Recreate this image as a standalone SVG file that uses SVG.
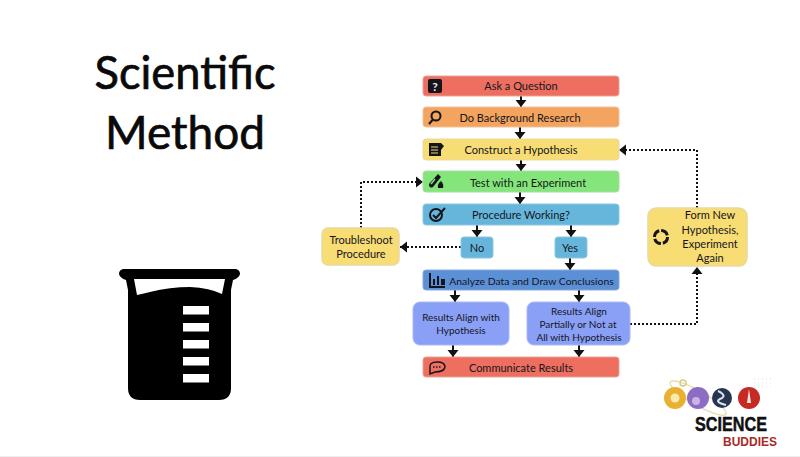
<svg xmlns="http://www.w3.org/2000/svg" width="800" height="457" viewBox="0 0 800 457">
<style>
text{font-family:Lato,"Open Sans","Liberation Sans",sans-serif;text-anchor:middle;fill:#14161c}
.t{font-size:11px}
.s{font-size:10px}
.title{font-size:47px;fill:#0a0a0a;stroke:#0a0a0a;stroke-width:.7px}
.box{stroke-width:1}
.red{fill:#ee6f60;stroke:#e3a59c}
.org{fill:#f3a45f;stroke:#eec39c}
.yel{fill:#f8dc74;stroke:#e8d9a0}
.grn{fill:#84e67a;stroke:#a9dca4}
.blu{fill:#66b6dc;stroke:#8ec6e2}
.dblu{fill:#5b8fd6;stroke:#86a9dc}
.per{fill:#8aa0f6;stroke:#a9b8f2}
.k{fill:#14141c}
.ks{fill:none;stroke:#14141c;stroke-width:2}
.solid{fill:none;stroke:#111;stroke-width:2}
.dot{fill:none;stroke:#111;stroke-width:2;stroke-dasharray:2 2}
</style>
<defs>
<marker id="ah" markerUnits="userSpaceOnUse" markerWidth="12" markerHeight="12" refX="8" refY="6" orient="auto"><path d="M1 0.500L8 6L1 11.500Z" fill="#111"/></marker>
</defs>
<rect width="800" height="457" fill="#fff"/>
<rect y="456" width="800" height="1" fill="#eee"/>
<g id="title">
<text class="title" x="185" y="89" textLength="181" lengthAdjust="spacingAndGlyphs">Scientific</text>
<text class="title" x="185" y="149" textLength="160" lengthAdjust="spacingAndGlyphs">Method</text>
</g>
<g id="beaker">
<path d="M123 269H236Q240 270 240 274Q239 278 233 280L231 290V388Q231 400 219 400H140Q128 400 128 388V290L126 280Q120 278 119 274Q119 270 123 269Z" fill="#000"/>
<path d="M134 279H225L222 294Q210 288 190 287Q170 287 150 292Q142 294 137 295Z" fill="#fff"/>
<g fill="#fff"><rect x="183" y="306" width="26" height="8.500"/><rect x="183" y="323" width="26" height="8.500"/><rect x="183" y="340" width="26" height="8.500"/><rect x="183" y="357" width="26" height="8.500"/><rect x="183" y="374" width="26" height="8.500"/></g>
</g>
<g id="connectors">
<path class="solid" d="M521 96V107" marker-end="url(#ah)"/>
<path class="solid" d="M520 127V139" marker-end="url(#ah)"/>
<path class="solid" d="M521 160V171" marker-end="url(#ah)"/>
<path class="solid" d="M520 192V204" marker-end="url(#ah)"/>
<path class="solid" d="M477 225V237" marker-end="url(#ah)"/>
<path class="solid" d="M571 225V237" marker-end="url(#ah)"/>
<path class="solid" d="M570 258V270" marker-end="url(#ah)"/>
<path class="solid" d="M455 290V302" marker-end="url(#ah)"/>
<path class="solid" d="M579 290V302" marker-end="url(#ah)"/>
<path class="solid" d="M453 345V357" marker-end="url(#ah)"/>
<path class="solid" d="M579 345V357" marker-end="url(#ah)"/>
<path class="dot" d="M461 247H400" marker-end="url(#ah)"/>
<path class="dot" d="M361 228V182H423" marker-end="url(#ah)"/>
<path class="dot" d="M630 324H697V267" marker-end="url(#ah)"/>
<path class="dot" d="M697 208V150H619" marker-end="url(#ah)"/>
</g>
<g id="ask"><rect class="box red" x="423" y="76" width="196" height="20" rx="3"/><rect class="k" x="428" y="79" width="14" height="14" rx="2"/><text x="435" y="90.500" style="fill:#f3efe6;font-size:12px;font-weight:700">?</text><text class="t" x="521" y="90">Ask a Question</text></g>
<g id="research"><rect class="box org" x="423" y="107" width="196" height="20" rx="3"/><circle class="ks" cx="436" cy="116" r="4.500"/><path class="ks" d="M432.500 120L429 124"/><text class="t" x="520" y="121.500">Do Background Research</text></g>
<g id="hypothesis"><rect class="box yel" x="423" y="139" width="196" height="21" rx="3"/><path class="k" d="M429 143H441L444 146L441 150V156H429Z"/><path d="M431 147H438M431 150H438M431 153H438" stroke="#f8dc74" stroke-width="1"/><text class="t" x="521" y="154">Construct a Hypothesis</text></g>
<g id="test"><rect class="box grn" x="423" y="171" width="196" height="21" rx="3"/><path d="M438 174L441 177L433 187Q429 189 429 184Z" fill="#14141c"/><path d="M435 179L431 184" stroke="#84e67a" stroke-width="1.500"/><path class="k" d="M441 181Q444 184 443 188H438Q437 184 441 181Z"/><text class="t" x="528" y="186.500">Test with an Experiment</text></g>
<g id="working"><rect class="box blu" x="423" y="204" width="196" height="21" rx="3"/><circle class="ks" cx="436" cy="215" r="6" stroke-width="2.500"/><path class="ks" d="M433 215L436 218L445 208"/><text class="t" x="521" y="219">Procedure Working?</text></g>
<g id="no"><rect class="box blu" x="461" y="237" width="32" height="21" rx="3"/><text class="t" x="477" y="251.500">No</text></g>
<g id="yes"><rect class="box blu" x="555" y="237" width="32" height="21" rx="3"/><text class="t" x="570" y="251.500">Yes</text></g>
<g id="troubleshoot"><rect class="box yel" x="322" y="228" width="77" height="37" rx="6" style="stroke-width:1.500"/><text class="t" x="361" y="244">Troubleshoot</text><text class="t" x="361" y="258">Procedure</text></g>
<g id="analyze"><rect class="box dblu" x="423" y="270" width="196" height="20" rx="3"/><path class="k" d="M429 273H431V286H445V288H429ZM433 279H435V285H433ZM437 276H439V285H437ZM441 279H445V285H441Z"/><text class="t" x="531.500" y="284.500" style="font-size:10.400px">Analyze Data and Draw Conclusions</text></g>
<g id="align"><rect class="box per" x="413" y="302" width="96" height="43" rx="7"/><text class="s" x="461" y="321">Results Align with</text><text class="s" x="461" y="334">Hypothesis</text></g>
<g id="partial"><rect class="box per" x="527" y="302" width="103" height="43" rx="7"/><text class="s" x="579" y="315">Results Align</text><text class="s" x="578" y="328">Partially or Not at</text><text class="s" x="579" y="341">All with Hypothesis</text></g>
<g id="communicate"><rect class="box red" x="423" y="357" width="196" height="20" rx="3"/><path d="M430 368Q429 362 437 362Q445 362 445 367Q444 372 435 372L430 374Z" fill="none" stroke="#14141c" stroke-width="1.500"/><path d="M433 367H441" stroke="#14141c" stroke-width="1.500" stroke-dasharray="1.500 1.500"/><text class="t" x="521" y="372">Communicate Results</text></g>
<g id="form"><rect class="box yel" x="648" y="208" width="99" height="58" rx="8" style="stroke-width:1.500"/><circle cx="661" cy="237" r="6.500" fill="none" stroke="#14141c" stroke-width="3" stroke-dasharray="8 2"/><text class="t" x="710" y="219">Form New</text><text class="t" x="710" y="233.500">Hypothesis,</text><text class="t" x="710" y="248">Experiment</text><text class="t" x="710" y="262">Again</text></g>
<g id="logo">
<ellipse cx="698" cy="398" rx="32" ry="7" fill="none" stroke="#e9dfae" stroke-width="1.500" transform="rotate(30 698 398)"/>
<circle cx="675" cy="398" r="11" fill="#eab031"/><circle cx="675" cy="398" r="4.500" fill="#fbe9b0"/>
<circle cx="683" cy="383" r="3" fill="none" stroke="#d9c98a" stroke-width="1.500"/>
<circle cx="698" cy="398" r="11" fill="#8d6cc4"/><circle cx="696" cy="401" r="4" fill="#c9b4e6"/>
<circle cx="722" cy="398" r="10" fill="#27354f"/><path d="M718 391Q728 396 720 399Q714 402 726 405" fill="none" stroke="#dbe3ee" stroke-width="2"/>
<circle cx="749" cy="398" r="11" fill="#c52a25"/><path d="M749 389L751 403H747Z" fill="#f4e9dc"/>
<path d="M754 379H771M754 383H771M754 387H771" stroke="#e6e2d8" stroke-width="1" stroke-dasharray="1 3"/>
<text x="731" y="431" textLength="72" lengthAdjust="spacingAndGlyphs" style="font-family:'Liberation Sans',sans-serif;font-weight:700;font-size:20px;fill:#111;stroke:#111;stroke-width:.5px">SCIENCE</text>
<text x="750" y="446" textLength="54" lengthAdjust="spacingAndGlyphs" style="font-family:'Liberation Sans',sans-serif;font-weight:700;font-size:13px;fill:#a82a26">BUDDIES</text>
</g>
</svg>
